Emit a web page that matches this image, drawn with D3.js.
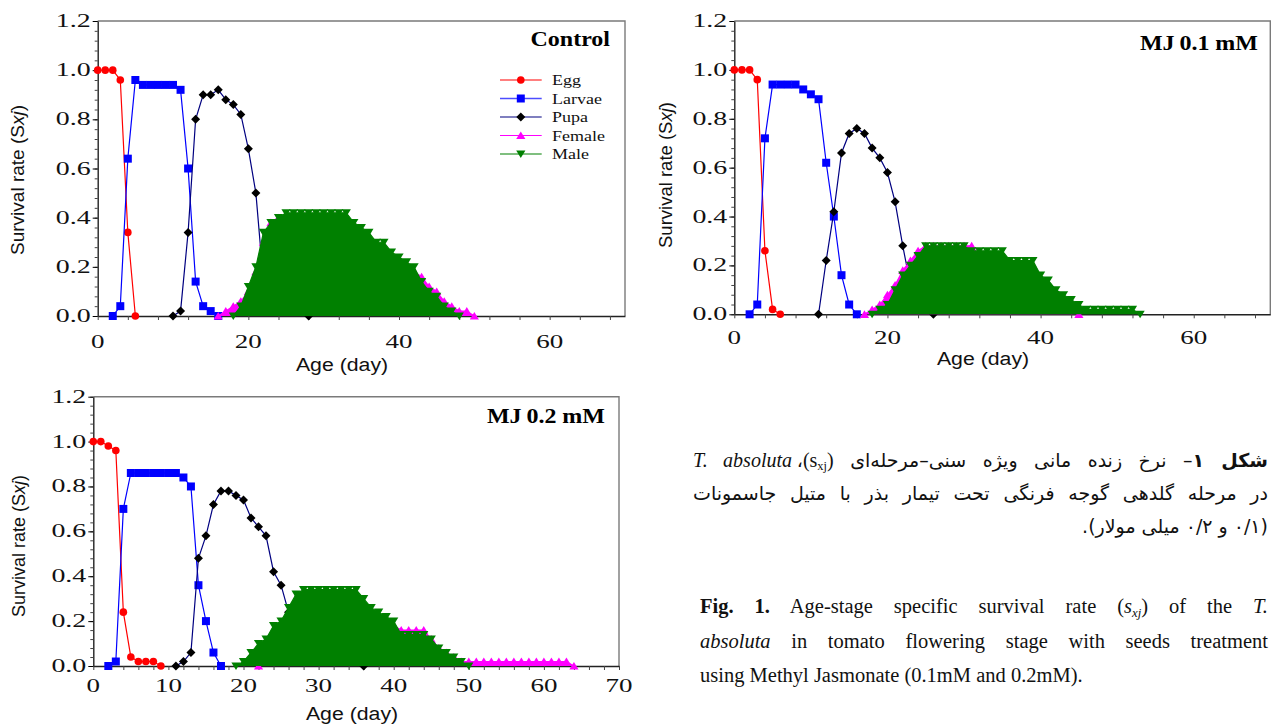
<!DOCTYPE html>
<html>
<head>
<meta charset="utf-8">
<script src="https://cdn.jsdelivr.net/npm/d3@7"></script>
<style>
html,body{margin:0;padding:0;background:#fff;}
body{width:1271px;height:725px;position:relative;overflow:hidden;}
#chart{position:absolute;left:0;top:0;}
.fa{position:absolute;left:693px;width:575px;direction:rtl;font-family:"DejaVu Sans",sans-serif;font-size:19px;line-height:30px;color:#111;text-align:right;white-space:nowrap;}
.fa .in{display:inline-block;}
.lat{font-family:"Liberation Serif",serif;font-size:20px;direction:ltr;unicode-bidi:isolate;}
.en{position:absolute;left:700px;width:568px;font-family:"Liberation Serif",serif;font-size:20.5px;line-height:30px;color:#111;}
.en.just{text-align:justify;text-align-last:justify;}
sub{font-size:0.62em;vertical-align:-0.28em;line-height:0;}
</style>
</head>
<body>
<svg id="chart" width="1271" height="725"></svg>
<div class="fa fill" style="top:445px"><span class="in"><b>شکل ۱</b>– نرخ زنده مانی ویژه سنی–مرحله‌ای <span class="lat" dir="ltr">(s<sub>xj</sub>)</span>،&#8197;<span class="lat" dir="ltr"><i>T. absoluta</i></span></span></div>
<div class="fa fill" style="top:478px"><span class="in">در مرحله گلدهی گوجه فرنگی تحت تیمار بذر با متیل جاسمونات</span></div>
<div class="fa" style="top:511px"><span class="in">(۰/۱ و ۰/۲ میلی مولار).</span></div>
<div class="en just" style="top:591px"><b>Fig. 1.</b> Age-stage specific survival rate (<i>s<sub>xj</sub></i>) of the <i>T.</i></div>
<div class="en just" style="top:626px"><i>absoluta</i> in tomato flowering stage with seeds treatment</div>
<div class="en" style="top:660px">using Methyl Jasmonate (0.1mM and 0.2mM).</div>
<script>
// ---------------- DATA ----------------
const ageDomain = [0, 70];
const survivalDomain = [0, 1.2];
const yTickValues = [0, 0.2, 0.4, 0.6, 0.8, 1.0, 1.2];
const xTickValuesA = [0, 20, 40, 60];
const xTickValuesB = [0, 10, 20, 30, 40, 50, 60, 70];
const stageNames = ["Egg", "Larvae", "Pupa", "Female", "Male"];
const panelTitles = ["Control", "MJ\u20090.1 mM", "MJ\u20090.2 mM"];
const xAxisTitle = "Age (day)";

// Control (first age of each stage, then survival per day)
const controlEggStart = 0;
const controlEgg = [1, 1, 1, 0.96, 0.34, 0];
const controlLarvaeStart = 2;
const controlLarvae = [0, 0.04, 0.64, 0.96, 0.94, 0.94, 0.94, 0.94, 0.94, 0.92, 0.6, 0.14, 0.04, 0.02, 0];
const controlPupaStart = 10;
const controlPupa = [0, 0.02, 0.34, 0.8, 0.9, 0.9, 0.92, 0.88, 0.86, 0.82, 0.68, 0.5, 0.14, 0.06, 0.04, 0.02, 0.02, 0.02, 0];
const controlFemaleStart = 16;
const controlFemale = [0, 0.02, 0.04, 0.06, 0.1, 0.18, 0.3, 0.38, 0.4, 0.4, 0.4, 0.4, 0.4, 0.4, 0.4, 0.4, 0.4, 0.4,
  0.36, 0.34, 0.32, 0.28, 0.28, 0.24, 0.22, 0.2, 0.18, 0.16, 0.12, 0.1, 0.06, 0.04, 0.02, 0.02, 0];
const controlMaleStart = 18;
const controlMale = [0, 0.04, 0.12, 0.2, 0.34, 0.38, 0.4, 0.42, 0.42, 0.42, 0.42, 0.42, 0.42, 0.42, 0.42, 0.42,
  0.38, 0.36, 0.34, 0.3, 0.3, 0.26, 0.24, 0.22, 0.2, 0.14, 0.1, 0.08, 0.04, 0.02, 0];

// MJ 0.1 mM
const mj1EggStart = 0;
const mj1Egg = [1, 1, 1, 0.96, 0.26, 0.02, 0];
const mj1LarvaeStart = 2;
const mj1Larvae = [0, 0.04, 0.72, 0.94, 0.94, 0.94, 0.94, 0.92, 0.9, 0.88, 0.62, 0.4, 0.16, 0.04, 0];
const mj1PupaStart = 11;
const mj1Pupa = [0, 0.22, 0.42, 0.66, 0.74, 0.76, 0.74, 0.68, 0.64, 0.58, 0.46, 0.28, 0.12, 0.04, 0.02, 0];
const mj1FemaleStart = 17;
const mj1Female = [0, 0.02, 0.04, 0.08, 0.12, 0.18, 0.22, 0.26, 0.28, 0.28, 0.28, 0.28, 0.28, 0.28, 0.28,
  0.24, 0.24, 0.24, 0.24, 0.2, 0.2, 0.2, 0.2, 0.14, 0.12, 0.08, 0.06, 0.02, 0];
const mj1MaleStart = 18;
const mj1Male = [0, 0.02, 0.04, 0.1, 0.16, 0.2, 0.24, 0.28, 0.28, 0.28, 0.28, 0.28, 0.28,
  0.26, 0.26, 0.26, 0.26, 0.26, 0.22, 0.22, 0.22, 0.22, 0.16, 0.14, 0.1, 0.08, 0.06, 0.04,
  0.02, 0.02, 0.02, 0.02, 0.02, 0.02, 0.02, 0];

// MJ 0.2 mM
const mj2EggStart = 0;
const mj2Egg = [1, 1, 0.98, 0.96, 0.24, 0.04, 0.02, 0.02, 0.02, 0];
const mj2LarvaeStart = 2;
const mj2Larvae = [0, 0.02, 0.7, 0.86, 0.86, 0.86, 0.86, 0.86, 0.86, 0.86, 0.84, 0.8, 0.36, 0.2, 0.06, 0];
const mj2PupaStart = 11;
const mj2Pupa = [0, 0.02, 0.06, 0.48, 0.58, 0.72, 0.78, 0.78, 0.76, 0.74, 0.66, 0.62, 0.58, 0.42, 0.36,
  0.24, 0.12, 0.06, 0.04, 0.02, 0.02, 0.02, 0.02, 0.02, 0.02, 0];
const mj2FemaleStart = 22;
const mj2Female = [0, 0.02, 0.04, 0.08, 0.12, 0.16, 0.18, 0.18, 0.18, 0.18, 0.18, 0.18, 0.18, 0.18, 0.18,
  0.18, 0.18, 0.18, 0.18, 0.16, 0.16, 0.16, 0.16, 0.12, 0.08, 0.06, 0.04, 0.02,
  0.02, 0.02, 0.02, 0.02, 0.02, 0.02, 0.02, 0.02, 0.02, 0.02, 0.02, 0.02, 0.02, 0.02, 0];
const mj2MaleStart = 19;
const mj2Male = [0, 0.02, 0.06, 0.1, 0.12, 0.18, 0.2, 0.26, 0.32, 0.34, 0.34, 0.34, 0.34, 0.34, 0.34, 0.34, 0.34,
  0.3, 0.26, 0.24, 0.22, 0.2, 0.14, 0.14, 0.14, 0.14, 0.12, 0.08, 0.06, 0.04, 0.02, 0];

// ---------------- BUILD ----------------
const toSeries = (start, values) => values.map((v, i) => ({age: start + i, s: v}));

const panelData = [
  [toSeries(controlEggStart, controlEgg), toSeries(controlLarvaeStart, controlLarvae), toSeries(controlPupaStart, controlPupa),
   toSeries(controlFemaleStart, controlFemale), toSeries(controlMaleStart, controlMale)],
  [toSeries(mj1EggStart, mj1Egg), toSeries(mj1LarvaeStart, mj1Larvae), toSeries(mj1PupaStart, mj1Pupa),
   toSeries(mj1FemaleStart, mj1Female), toSeries(mj1MaleStart, mj1Male)],
  [toSeries(mj2EggStart, mj2Egg), toSeries(mj2LarvaeStart, mj2Larvae), toSeries(mj2PupaStart, mj2Pupa),
   toSeries(mj2FemaleStart, mj2Female), toSeries(mj2MaleStart, mj2Male)]
];

const layout = [
  {left: 97.7, right: 625, top: 21, bottom: 316, xt: xTickValuesA, minorStep: 4, xLabelBase: 348,
   xTitle: [342, 371], yTitle: [24, 180], yTitleSize: 19, title: [610, 45.5], legend: true},
  {left: 734.3, right: 1270.3, top: 21, bottom: 314.3, xt: xTickValuesA, minorStep: 4, xLabelBase: 344,
   xTitle: [983, 365], yTitle: [672, 175], yTitleSize: 18.5, title: [1258, 50], legend: false},
  {left: 93.3, right: 619, top: 396.7, bottom: 666, xt: xTickValuesB, minorStep: 2, xLabelBase: 691.5,
   xTitle: [352, 720], yTitle: [24.5, 546], yTitleSize: 18, title: [605, 422.5], legend: false}
];

const stageStyle = {
  Egg:    {mark: "#ff0000", line: "#ff0000", shape: "circle"},
  Larvae: {mark: "#0000ff", line: "#0000ff", shape: "square"},
  Pupa:   {mark: "#000000", line: "#000080", shape: "diamond"},
  Female: {mark: "#ff00ff", line: "#ff00ff", shape: "up", fill: "#ff00ff"},
  Male:   {mark: "#008000", line: "#008000", shape: "down", fill: "#008000"}
};
const shapePath = {
  circle: "M0,-3.8A3.8,3.8 0 1,1 0,3.8A3.8,3.8 0 1,1 0,-3.8Z",
  square: "M-4,-4H4V4H-4Z",
  diamond: "M0,-4.5L4.5,0L0,4.5L-4.5,0Z",
  up: "M0,-4L4.6,3.6L-4.6,3.6Z",
  down: "M0,4L4.6,-3.6L-4.6,-3.6Z"
};

const svg = d3.select("#chart");

function label(g, x, y, str, o) {
  const t = g.append("text")
    .attr("transform", `translate(${x},${y}) scale(${o.sx || 1},1)`)
    .attr("text-anchor", o.anchor || "start")
    .style("font-family", o.family || "'Liberation Serif', serif")
    .style("font-size", (o.size || 16) + "px")
    .style("font-weight", o.weight || "normal")
    .attr("fill", o.fill || "#000");
  t.text(str);
  return t;
}

layout.forEach((L, pi) => {
  const g = svg.append("g");
  const x = d3.scaleLinear().domain(ageDomain).range([L.left, L.right]);
  const y = d3.scaleLinear().domain(survivalDomain).range([L.bottom, L.top]);

  g.append("path")
    .attr("d", `M${x(ageDomain[0])},${y(survivalDomain[1])}H${x(ageDomain[1])}V${y(0)}`)
    .attr("fill", "none").attr("stroke", "#7a7a7a").attr("stroke-width", 1.4);

  const xMinor = d3.range(ageDomain[0], ageDomain[1] + 0.001, L.minorStep);
  const yMinor = d3.range(0, 1.2001, 0.04);
  const ax = g.append("g").attr("transform", `translate(0,${y(0)})`)
    .call(d3.axisBottom(x).tickValues(xMinor).tickSize(4).tickSizeOuter(0).tickFormat(""));
  const ay = g.append("g").attr("transform", `translate(${x(0)},0)`)
    .call(d3.axisLeft(y).tickValues(yMinor).tickSize(3).tickSizeOuter(0).tickFormat(""));
  g.append("g").attr("transform", `translate(${x(0)},0)`)
    .call(d3.axisLeft(y).tickValues(yTickValues).tickSize(5).tickSizeOuter(0).tickFormat(""))
    .select(".domain").remove();
  [ax, ay].forEach(a => {
    a.select(".domain").attr("stroke", "#222").attr("stroke-width", 1.4);
    a.selectAll(".tick line").attr("stroke", "#444").attr("stroke-width", 1);
  });

  yTickValues.forEach(v => label(g, x(0) - 7, y(v) + 6, d3.format(".1f")(v),
    {anchor: "end", size: 18, sx: 1.55, fill: "#111"}));
  L.xt.forEach(v => label(g, x(v), L.xLabelBase, String(v),
    {anchor: "middle", size: 18, sx: 1.5, fill: "#111"}));

  label(g, L.xTitle[0], L.xTitle[1], xAxisTitle,
    {anchor: "middle", size: 19, sx: 1.12, family: "'Liberation Sans', Arial, sans-serif", fill: "#111"});
  const yt = g.append("text")
    .attr("transform", `translate(${L.yTitle[0]},${L.yTitle[1]}) rotate(-90)`)
    .attr("text-anchor", "middle")
    .style("font-family", "'Liberation Sans', Arial, sans-serif")
    .style("font-size", L.yTitleSize + "px").attr("fill", "#111");
  yt.append("tspan").text("Survival rate (S");
  yt.append("tspan").style("font-style", "italic").text("xj");
  yt.append("tspan").text(")");

  label(g, L.title[0], L.title[1], panelTitles[pi],
    {anchor: "end", size: 20, weight: "bold", sx: 1.2});

  const line = d3.line().x(d => x(d.age)).y(d => y(d.s));
  const area = d3.area().x(d => x(d.age)).y0(y(0)).y1(d => y(d.s));
  panelData[pi].forEach((ser, si) => {
    const st = stageStyle[stageNames[si]];
    const sg = g.append("g");
    if (st.fill) sg.append("path").datum(ser).attr("d", area).attr("fill", st.fill);
    sg.append("path").datum(ser).attr("d", line).attr("fill", "none")
      .attr("stroke", st.line).attr("stroke-width", 1.2);
    sg.selectAll("path.m").data(ser).join("path").attr("class", "m")
      .attr("transform", d => `translate(${x(d.age)},${y(d.s)})`)
      .attr("d", shapePath[st.shape]).attr("fill", st.mark);
  });

  if (L.legend) {
    const rowsY = d3.scaleLinear().domain([0, 4]).range([80, 154]);
    stageNames.forEach((name, i) => {
      const st = stageStyle[name];
      const yy = rowsY(i);
      g.append("line").attr("x1", 500).attr("x2", 541.7).attr("y1", yy).attr("y2", yy)
        .attr("stroke", st.line).attr("stroke-width", name === "Larvae" ? 1.6 : 1.2)
        .attr("stroke-opacity", name === "Larvae" ? 0.7 : 1);
      g.append("path").attr("transform", `translate(520.8,${yy})`).attr("d", shapePath[st.shape]).attr("fill", st.mark);
      label(g, 552, yy + 5, name, {size: 15, sx: 1.2, fill: "#111"});
    });
  }
});

// justify the Persian caption lines by widening word gaps only
document.querySelectorAll(".fa.fill").forEach(div => {
  const inner = div.querySelector(".in");
  const w = inner.getBoundingClientRect().width;
  const gaps = (inner.textContent.match(/ /g) || []).length;
  if (gaps > 0 && w < 575) inner.style.wordSpacing = ((575 - w) / gaps) + "px";
});
</script>
</body>
</html>
